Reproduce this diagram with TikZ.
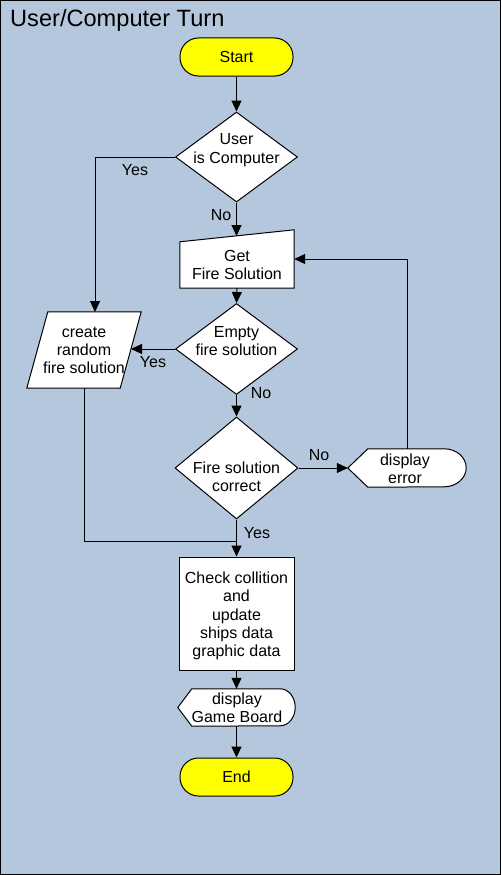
\documentclass[tikz,border=0pt]{standalone}
\usepackage{fontspec}
\setmainfont{Liberation Sans}
\usetikzlibrary{arrows.meta,shapes.geometric}
\definecolor{bgblue}{RGB}{180,199,220}
\definecolor{termyellow}{RGB}{255,255,0}
\begin{document}
\begin{tikzpicture}[x=1pt,y=-1pt,
  every node/.style={font=\fontsize{16}{18.4}\selectfont, align=center, inner sep=0pt},
  holder/.style={draw=none, rectangle, minimum width=#1},
  sh/.style={draw=black, line width=1pt, fill=white},
  term/.style={sh, fill=termyellow, rectangle, rounded corners=18.5pt, minimum width=113pt, minimum height=38pt},
  dia/.style={sh, diamond},
  box/.style={sh, rectangle},
  txt/.style={},
  lbl/.style={},
  line/.style={draw=black, line width=1pt},
  arr/.style={line, -{Triangle[length=11pt,width=10pt]}}
]
\useasboundingbox (0,0) rectangle (501,875);
\fill[bgblue] (0,0) rectangle (501,875);
\draw[line width=1pt] (0.5,0.5) rectangle (500.5,874.5);
\node[anchor=base west, font=\fontsize{23.6}{26}\selectfont] (title) at (10,27) {User/Computer Turn};

% shapes
\node[term] (start) at (236.5,57) {Start};
\node[dia, minimum width=122pt, minimum height=90pt] (d1) at (236.5,157) {};
\node[txt] (d1t) at (236.5,150) {User\\is Computer};

\node[holder=114pt, minimum height=58pt] (get) at (237,259) {};
\draw[sh] (get.south west) -- (get.south east) -- (get.north east) -- ([yshift=-12pt]get.north west) -- cycle;
\node[txt] (gett) at (237,265) {Get\\Fire Solution};
\coordinate (gettop) at (236.5,236);

\node[dia, minimum width=122pt, minimum height=91pt] (d2) at (236.5,349) {};
\node[txt] (d2t) at (236.5,341) {Empty\\fire solution};

\node[holder=114pt, minimum height=76pt] (rand) at (84,350) {};
\draw[sh] ([xshift=21pt]rand.north west) -- (rand.north east) -- ([xshift=-21pt]rand.south east) -- (rand.south west) -- cycle;
\node[txt] (randt) at (84,350.5) {create\\random\\fire solution};
\coordinate (randtop) at (95,312);
\coordinate (randright) at (131,349);

\node[dia, minimum width=123pt, minimum height=102pt] (d3) at (236.5,468) {};
\node[txt] (d3t) at (236.5,477) {Fire solution\\correct};

\node[holder=118pt, minimum height=38pt] (err) at (407,468) {};
\draw[sh] ([xshift=20pt]err.north west) -- ([xshift=-22pt]err.north east)
  arc[start angle=90,end angle=-90,x radius=22pt,y radius=19pt]
  -- ([xshift=20pt]err.south west) -- (err.west) -- cycle;
\node[txt] (errt) at (405,469) {display\\error};

\node[box, minimum width=115pt, minimum height=113pt] (chk) at (236.5,613.5) {};
\node[txt] (chkt) at (236.5,616) {Check collition\\and\\update\\ships data\\graphic data};

\node[holder=117pt, minimum height=37pt] (gb) at (236.5,707.5) {};
\draw[sh] ([xshift=14pt]gb.north west) -- ([xshift=-15pt]gb.north east)
  arc[start angle=90,end angle=-90,x radius=15pt,y radius=18.5pt]
  -- ([xshift=14pt]gb.south west) -- (gb.west) -- cycle;
\node[txt] (gbt) at (237,708) {display\\Game Board};

\node[term] (end) at (236.5,777) {End};

% connectors
\coordinate (join) at (236.5,541);
\draw[arr] (start.south) -- (d1.north);
\draw[arr] (d1.west) -| (randtop);
\draw[arr] (d1.south) -- (gettop);
\draw[arr] (get.south) -- (d2.north);
\draw[arr] (d2.west) -- (randright);
\draw[arr] (d2.south) -- (d3.north);
\draw[arr] (d3.east) -- (err.west);
\draw[arr] (err.north) |- (get.east);
\draw[line] (rand.south) |- (join);
\draw[arr] (d3.south) -- (chk.north);
\draw[arr] (chk.south) -- (gb.north);
\draw[arr] (gb.south) -- (end.north);

% labels
\node[lbl] (l1) at (135,170) {Yes};
\node[lbl] (l2) at (221,215) {No};
\node[lbl] (l3) at (153,362) {Yes};
\node[lbl] (l4) at (261,393) {No};
\node[lbl] (l5) at (319,455) {No};
\node[lbl] (l6) at (257,533) {Yes};
\end{tikzpicture}
\end{document}
